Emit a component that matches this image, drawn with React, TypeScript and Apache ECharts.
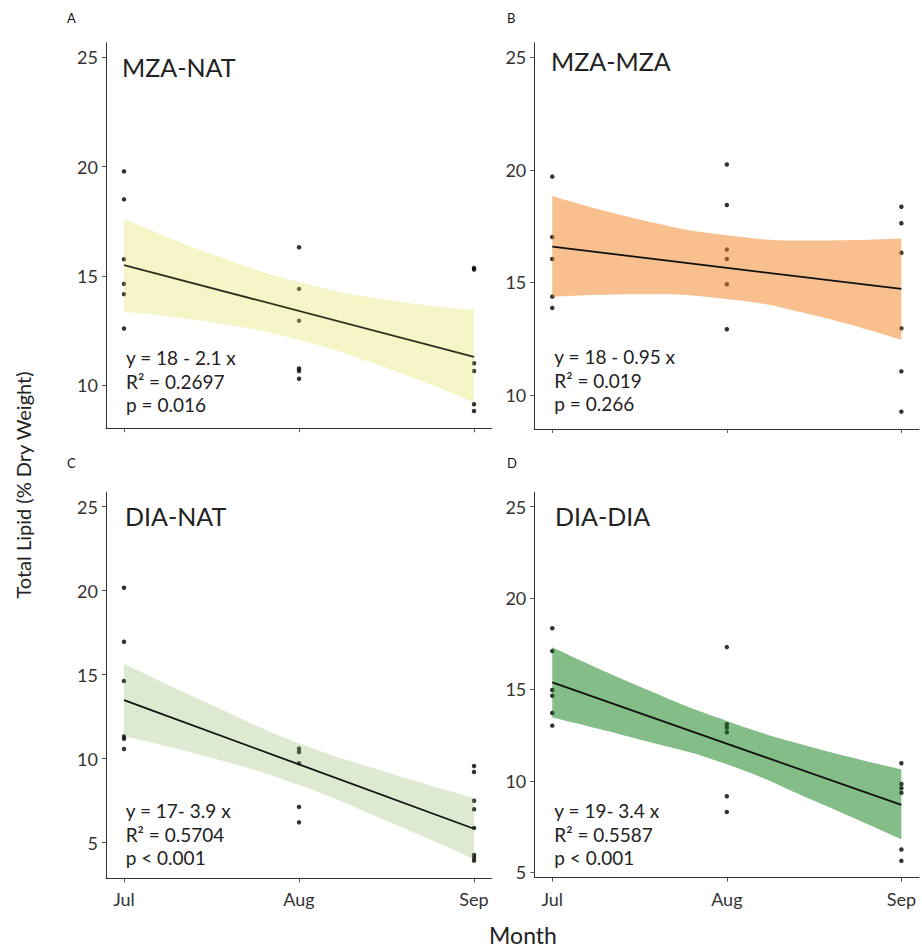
import React, { useEffect, useRef } from "react";
import * as echarts from "echarts";

const months = ["Jul", "Aug", "Sep"];
const monthX = [1, 2, 3];
const bandX = [1, 1.5, 2, 2.5, 3];

const panelLetters = ["A", "B", "C", "D"];
const panelTitles = ["MZA-NAT", "MZA-MZA", "DIA-NAT", "DIA-DIA"];
const equations = ["y = 18 - 2.1 x", "y = 18 - 0.95 x", "y = 17- 3.9 x", "y = 19- 3.4 x"];
const rSquared = ["R² = 0.2697", "R² = 0.019", "R² = 0.5704", "R² = 0.5587"];
const pValues = ["p = 0.016", "p = 0.266", "p < 0.001", "p < 0.001"];

// Observations per month (Jul, Aug, Sep)
const pointsA = [
  [19.78, 18.5, 15.76, 14.63, 14.16, 12.59],
  [16.31, 14.4, 12.94, 10.76, 10.64, 10.29],
  [15.36, 15.29, 11.0, 10.64, 9.12, 8.81],
];
const pointsB = [
  [19.7, 17.02, 16.04, 14.37, 13.87],
  [20.24, 18.44, 16.46, 16.04, 14.92, 12.92],
  [18.36, 17.63, 16.32, 12.96, 11.05, 9.26],
];
const pointsC = [
  [20.18, 16.96, 14.63, 11.33, 11.19, 10.58],
  [10.6, 10.4, 9.73, 7.13, 6.21],
  [9.57, 9.21, 7.5, 6.99, 5.88, 4.27, 4.11, 3.93],
];
const pointsD = [
  [18.35, 17.1, 14.97, 14.66, 13.71, 13.02],
  [17.32, 13.1, 12.91, 12.66, 9.16, 8.3],
  [10.96, 9.83, 9.6, 9.35, 6.24, 5.62],
];

// Fitted line at Jul and Sep
const fitA = [15.49, 11.29];
const fitB = [16.59, 14.71];
const fitC = [13.49, 5.83];
const fitD = [15.39, 8.68];

// Confidence band at bandX
const upperA = [17.6, 16.0, 14.72, 13.9, 13.43];
const lowerA = [13.35, 12.87, 12.06, 10.78, 9.21];
const upperB = [18.84, 17.8, 17.1, 16.86, 16.95];
const lowerB = [14.37, 14.48, 14.27, 13.54, 12.44];
const upperC = [15.65, 13.2, 10.92, 9.2, 7.66];
const lowerC = [11.33, 10.05, 8.43, 6.3, 4.03];
const upperD = [17.31, 15.16, 13.28, 11.81, 10.63];
const lowerD = [13.46, 12.26, 10.91, 8.91, 6.8];

const yTicksTop = [10, 15, 20, 25];
const yTicksBottom = [5, 10, 15, 20, 25];

const panels = [
  { pts: pointsA, fit: fitA, up: upperA, lo: lowerA, yMin: 8.02, yMax: 25.67, ticks: yTicksTop,
    band: "rgba(225,225,95,0.35)", line: "#2c3020", grid: { left: 106, top: 42.7, width: 385.7, height: 385.6 },
    letter: [67, 18], title: [122, 66.5], eq: [126, 381] },
  { pts: pointsB, fit: fitB, up: upperB, lo: lowerB, yMin: 8.49, yMax: 25.65, ticks: yTicksTop,
    band: "rgba(241,129,31,0.5)", line: "#111", grid: { left: 534.3, top: 42.7, width: 384.7, height: 386.3 },
    letter: [507, 18], title: [551, 61.3], eq: [554.3, 380] },
  { pts: pointsC, fit: fitC, up: upperC, lo: lowerC, yMin: 2.88, yMax: 25.86, ticks: yTicksBottom,
    band: "rgba(142,182,102,0.3)", line: "#111", grid: { left: 106, top: 492.3, width: 385.7, height: 386 },
    letter: [67, 463], title: [125, 515.8], eq: [125.7, 834] },
  { pts: pointsD, fit: fitD, up: upperD, lo: lowerD, yMin: 4.7, yMax: 25.79, ticks: yTicksBottom,
    band: "rgba(9,123,15,0.5)", line: "#111", grid: { left: 534.3, top: 492.3, width: 384.7, height: 385.4 },
    letter: [507, 463], title: [555, 515.8], eq: [554.3, 834] },
];

const FONT = "Lato";

export default function App() {
  const ref = useRef<HTMLDivElement>(null);
  useEffect(() => {
    if (!ref.current) return;
    const chart = echarts.init(ref.current, null, { renderer: "svg" });
    const grids: any[] = [];
    const xAxes: any[] = [];
    const yAxes: any[] = [];
    const series: any[] = [];
    const graphics: any[] = [];

    panels.forEach((p, i) => {
      grids.push({ ...p.grid, containLabel: false });
      const bottomRow = i >= 2;
      xAxes.push({
        type: "value", gridIndex: i, min: 0.897, max: 3.101,
        axisLine: { show: true, lineStyle: { color: "#333", width: 1 } },
        axisTick: { show: true, customValues: monthX, length: 4, lineStyle: { color: "#555" } },
        axisLabel: {
          show: bottomRow, customValues: monthX, margin: 12,
          formatter: (v: number) => months[Math.round(v) - 1] || "",
          fontFamily: FONT, fontSize: 18, color: "#333",
        },
        splitLine: { show: false },
      });
      yAxes.push({
        type: "value", gridIndex: i, min: p.yMin, max: p.yMax,
        axisLine: { show: true, lineStyle: { color: "#333", width: 1 } },
        axisTick: { show: true, customValues: p.ticks, length: 4, lineStyle: { color: "#555" } },
        axisLabel: { show: true, customValues: p.ticks, margin: 8, fontFamily: FONT, fontSize: 18, color: "#333" },
        splitLine: { show: false },
      });
      const scatterData: number[][] = [];
      p.pts.forEach((vals, m) => vals.forEach((v) => scatterData.push([monthX[m], v])));
      series.push({
        type: "scatter", xAxisIndex: i, yAxisIndex: i, data: scatterData,
        symbolSize: 4.5, itemStyle: { color: "#000" }, silent: true,
      });
      series.push({
        type: "line", xAxisIndex: i, yAxisIndex: i, stack: "band" + i, smooth: true,
        data: bandX.map((x, k) => [p.lo[k], x]), encode: { x: 1, y: 0 },
        symbol: "none", lineStyle: { opacity: 0 }, silent: true,
      });
      series.push({
        type: "line", xAxisIndex: i, yAxisIndex: i, stack: "band" + i, smooth: true,
        data: bandX.map((x, k) => [p.up[k] - p.lo[k], x]), encode: { x: 1, y: 0 },
        symbol: "none", lineStyle: { opacity: 0 }, areaStyle: { color: p.band, opacity: 1 }, silent: true,
      });
      series.push({
        type: "line", xAxisIndex: i, yAxisIndex: i,
        data: [[monthX[0], p.fit[0]], [monthX[2], p.fit[1]]],
        symbol: "none", lineStyle: { color: p.line, width: 1.8 }, silent: true,
      });
      graphics.push({
        type: "text", x: p.letter[0], y: p.letter[1],
        style: { text: panelLetters[i], fontFamily: FONT, fontSize: 13, fill: "#111", align: "left", verticalAlign: "middle" },
      });
      graphics.push({
        type: "text", x: p.title[0], y: p.title[1],
        style: { text: panelTitles[i], fontFamily: FONT, fontSize: 25, fill: "#222", align: "left", verticalAlign: "middle" },
      });
      graphics.push({
        type: "text", x: p.eq[0], y: p.eq[1],
        style: {
          text: [equations[i], rSquared[i], pValues[i]].join("\n"),
          fontFamily: FONT, fontSize: 19, lineHeight: 23.5, fill: "#222", align: "left", verticalAlign: "middle",
        },
      });
    });

    graphics.push({
      type: "text", x: 23, y: 485, rotation: Math.PI / 2,
      style: { text: "Total Lipid (% Dry Weight)", fontFamily: FONT, fontSize: 20, fill: "#222", align: "center", verticalAlign: "middle" },
    });
    graphics.push({
      type: "text", x: 523, y: 935,
      style: { text: "Month", fontFamily: FONT, fontSize: 23, fill: "#222", align: "center", verticalAlign: "middle" },
    });

    chart.setOption({
      animation: false,
      backgroundColor: "#fff",
      grid: grids,
      xAxis: xAxes,
      yAxis: yAxes,
      series,
      graphic: graphics,
    });
    return () => chart.dispose();
  }, []);
  return <div ref={ref} style={{ position: "absolute", left: 0, top: 0, width: 922, height: 948 }} />;
}
